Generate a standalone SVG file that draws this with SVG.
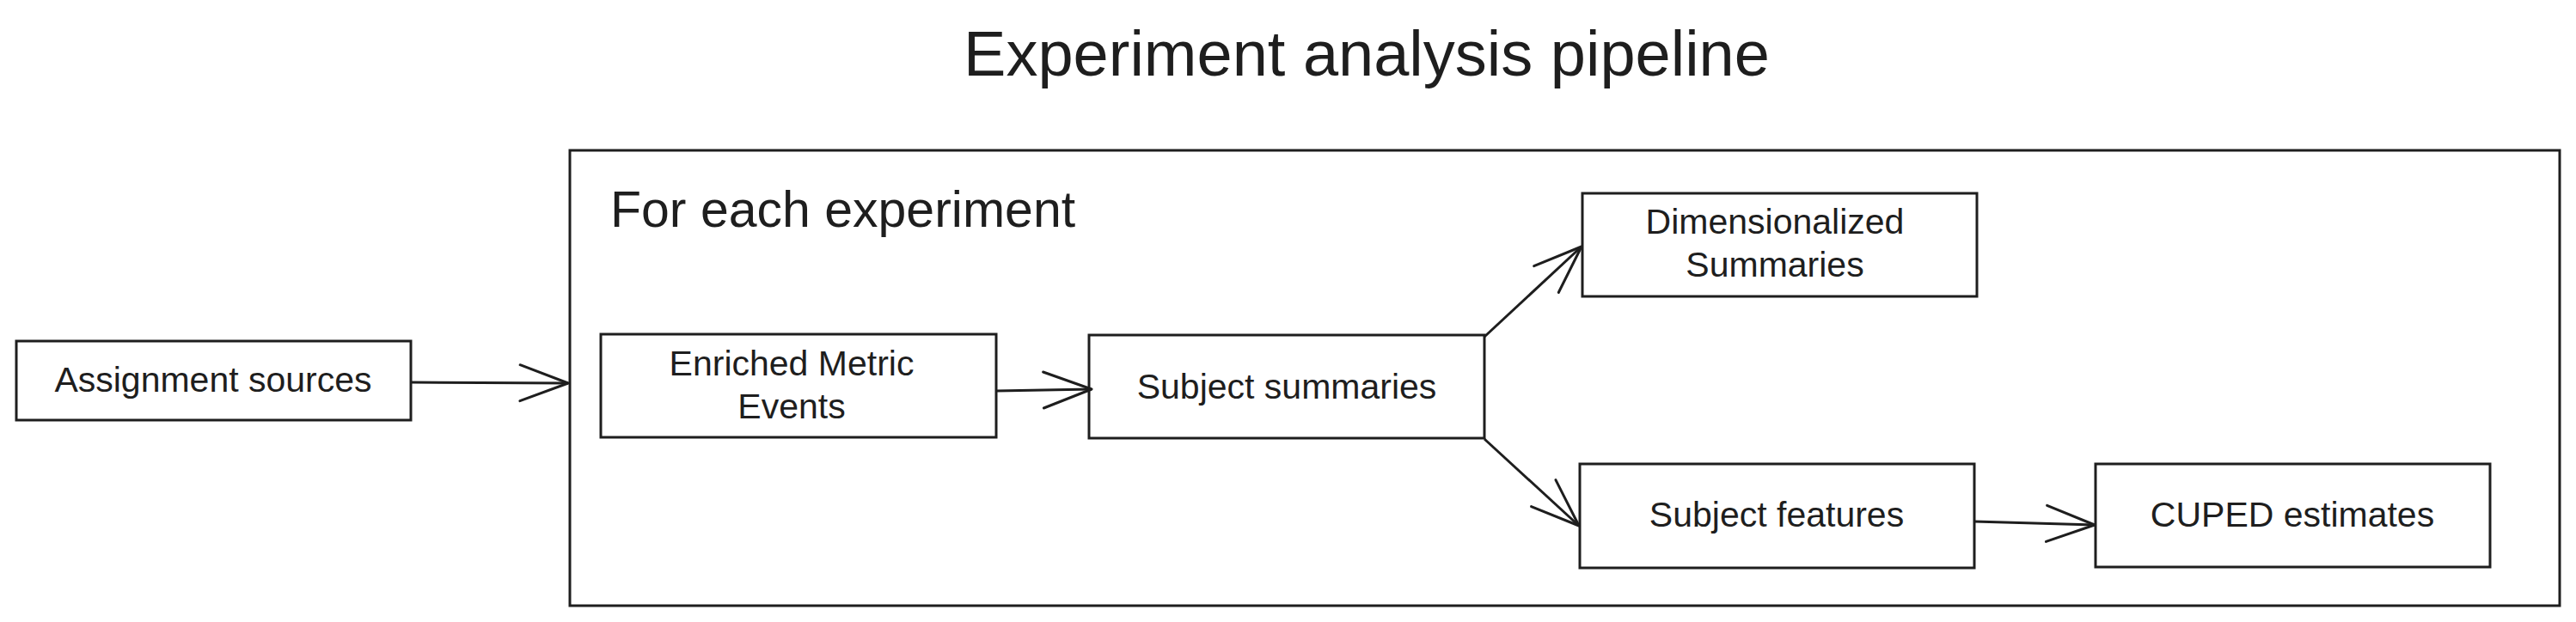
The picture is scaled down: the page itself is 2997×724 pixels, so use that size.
<svg xmlns="http://www.w3.org/2000/svg" width="2997" height="724" viewBox="0 0 2997 724">
  <style>
    .box { fill: #ffffff; stroke: #1e1e1e; stroke-width: 3; }
    .frame { fill: none; stroke: #1e1e1e; stroke-width: 3; }
    .lbl { font-family: "Liberation Sans", Arial, sans-serif; font-size: 41px; fill: #1e1e1e; text-anchor: middle; }
    .title { font-family: "Liberation Sans", Arial, sans-serif; font-size: 74px; fill: #1e1e1e; text-anchor: middle; }
    .sub { font-family: "Liberation Sans", Arial, sans-serif; font-size: 59px; fill: #1e1e1e; }
    .conn { fill: none; stroke: #1e1e1e; stroke-width: 3; marker-end: url(#arrow); }
  </style>
  <defs>
    <marker id="arrow" markerUnits="userSpaceOnUse" markerWidth="80" markerHeight="60" viewBox="-60 -30 70 60" refX="0" refY="0" orient="auto" overflow="visible">
      <path d="M -56 -21 L 0 0 L -56 21" fill="none" stroke="#1e1e1e" stroke-width="3" stroke-linecap="round" stroke-linejoin="round"/>
    </marker>
  </defs>
  <rect width="2997" height="724" fill="#ffffff"/>

  <text class="title" x="1590" y="88">Experiment analysis pipeline</text>

  <g id="frame-each-experiment">
    <rect class="frame" x="663" y="175" width="2315" height="530"/>
    <text class="sub" x="710" y="264">For each experiment</text>
  </g>

  <g id="node-assignment-sources">
    <rect class="box" x="19" y="397" width="459" height="92"/>
    <text class="lbl" x="248" y="456">Assignment sources</text>
  </g>

  <g id="node-enriched-metric-events">
    <rect class="box" x="699" y="389" width="460" height="120"/>
    <text class="lbl" x="921" y="437">Enriched Metric</text>
    <text class="lbl" x="921" y="487">Events</text>
  </g>

  <g id="node-subject-summaries">
    <rect class="box" x="1267" y="390" width="460" height="120"/>
    <text class="lbl" x="1497" y="464">Subject summaries</text>
  </g>

  <g id="node-dimensionalized-summaries">
    <rect class="box" x="1841" y="225" width="459" height="120"/>
    <text class="lbl" x="2065" y="272">Dimensionalized</text>
    <text class="lbl" x="2065" y="322">Summaries</text>
  </g>

  <g id="node-subject-features">
    <rect class="box" x="1838" y="540" width="459" height="121"/>
    <text class="lbl" x="2067" y="613">Subject features</text>
  </g>

  <g id="node-cuped-estimates">
    <rect class="box" x="2438" y="540" width="459" height="120"/>
    <text class="lbl" x="2667" y="613">CUPED estimates</text>
  </g>

  <g id="connectors">
    <path class="conn" d="M 478 445 L 661 446"/>
    <path class="conn" d="M 1159 455 L 1270 453"/>
    <path class="conn" d="M 1727 392 L 1840 287"/>
    <path class="conn" d="M 1727 511 L 1837 612"/>
    <path class="conn" d="M 2297 607 L 2437 611"/>
  </g>
</svg>
